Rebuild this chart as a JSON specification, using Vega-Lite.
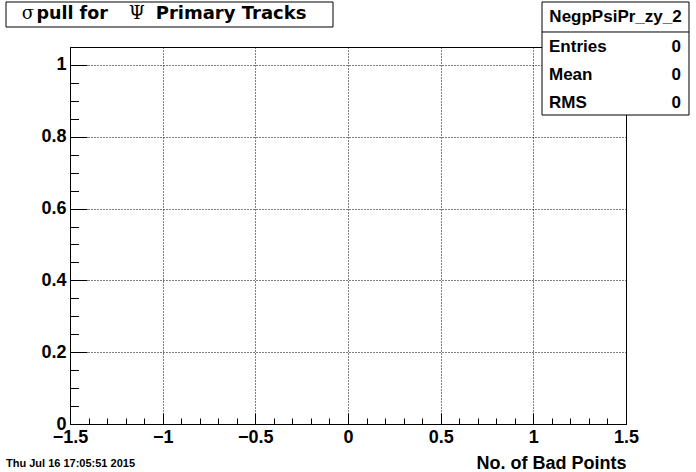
{
  "$schema": "https://vega.github.io/schema/vega-lite/v6.json",
  "width": 556,
  "height": 377,
  "autosize": {"type": "none"},
  "padding": {"left": 70, "top": 47, "right": 70, "bottom": 48},
  "background": "white",
  "config": {
    "view": {"stroke": "black", "strokeWidth": 1},
    "font": "Liberation Sans",
    "axis": {
      "domainColor": "black",
      "tickColor": "black",
      "domainWidth": 1,
      "tickWidth": 1,
      "labelColor": "black",
      "titleColor": "black",
      "labelFont": "Liberation Sans",
      "titleFont": "Liberation Sans",
      "labelFontWeight": "bold",
      "titleFontWeight": "bold",
      "labelFlush": false,
      "labelOverlap": false,
      "gridColor": "black",
      "gridOpacity": 1,
      "gridDash": [1, 2],
      "gridWidth": 1
    }
  },
  "datasets": {
    "histogram": [],
    "stats": [
      {"stat": "Entries", "value": 0},
      {"stat": "Mean", "value": 0},
      {"stat": "RMS", "value": 0}
    ]
  },
  "layer": [
    {
      "layer": [
        {
          "data": {"name": "histogram"},
          "mark": {"type": "point", "color": "black"},
          "encoding": {
            "x": {
              "field": "x", "type": "quantitative",
              "scale": {"domain": [-1.5, 1.5], "nice": false, "zero": false},
              "axis": {
                "orient": "bottom",
                "values": [-1.5, -1, -0.5, 0, 0.5, 1, 1.5],
                "format": "~g",
                "tickSize": -11,
                "labelPadding": 15,
                "labelFontSize": 18,
                "grid": true,
                "title": "No. of Bad Points",
                "titleFontSize": 18,
                "titleAlign": "right",
                "titleBaseline": "alphabetic",
                "titleX": 556,
                "titleY": 44
              }
            },
            "y": {
              "field": "entries", "type": "quantitative",
              "scale": {"domain": [0, 1.05], "nice": false, "zero": false},
              "axis": {
                "orient": "left",
                "values": [0, 0.2, 0.4, 0.6, 0.8, 1],
                "format": "~g",
                "tickSize": -17,
                "labelPadding": 21,
                "labelFontSize": 18,
                "grid": true,
                "title": null
              }
            }
          }
        },
        {
          "data": {"name": "histogram"},
          "mark": {"type": "point", "opacity": 0},
          "encoding": {
            "x": {
              "field": "x", "type": "quantitative",
              "axis": {
                "orient": "bottom",
                "values": [-1.4, -1.3, -1.2, -1.1, -0.9, -0.8, -0.7, -0.6, -0.4, -0.3, -0.2, -0.1, 0.1, 0.2, 0.3, 0.4, 0.6, 0.7, 0.8, 0.9, 1.1, 1.2, 1.3, 1.4],
                "tickSize": -6,
                "labels": false,
                "domain": false,
                "grid": false,
                "title": null
              }
            },
            "y": {
              "field": "entries", "type": "quantitative",
              "axis": {
                "orient": "left",
                "values": [0.05, 0.1, 0.15, 0.25, 0.3, 0.35, 0.45, 0.5, 0.55, 0.65, 0.7, 0.75, 0.85, 0.9, 0.95],
                "tickSize": -8.5,
                "labels": false,
                "domain": false,
                "grid": false,
                "title": null
              }
            }
          }
        },
        {
          "data": {"name": "stats"},
          "transform": [{"filter": "datum.stat === 'Entries'"}],
          "mark": {"type": "rect", "fill": "white", "stroke": "black", "strokeWidth": 1},
          "encoding": {
            "x": {"datum": -1.8453, "type": "quantitative", "axis": null},
            "x2": {"datum": -0.0809},
            "y": {"datum": 1.1753, "type": "quantitative", "axis": null},
            "y2": {"datum": 1.1057}
          }
        },
        {
          "data": {"name": "stats"},
          "transform": [{"filter": "datum.stat === 'Entries'"}],
          "mark": {"type": "text", "text": "σ", "font": "DejaVu Serif", "fontWeight": "normal", "fontSize": 18, "align": "left", "baseline": "alphabetic", "color": "black"},
          "encoding": {
            "x": {"datum": -1.7608, "type": "quantitative", "axis": null},
            "y": {"datum": 1.1266, "type": "quantitative", "axis": null}
          }
        },
        {
          "data": {"name": "stats"},
          "transform": [{"filter": "datum.stat === 'Entries'"}],
          "mark": {"type": "text", "text": "pull for", "font": "DejaVu Sans", "fontWeight": "bold", "fontSize": 17.5, "align": "left", "baseline": "alphabetic", "color": "black"},
          "encoding": {
            "x": {"datum": -1.6808, "type": "quantitative", "axis": null},
            "y": {"datum": 1.1266, "type": "quantitative", "axis": null}
          }
        },
        {
          "data": {"name": "stats"},
          "transform": [{"filter": "datum.stat === 'Entries'"}],
          "mark": {"type": "text", "text": "Ψ", "font": "DejaVu Serif", "fontWeight": "normal", "fontSize": 18, "align": "left", "baseline": "alphabetic", "color": "black"},
          "encoding": {
            "x": {"datum": -1.1817, "type": "quantitative", "axis": null},
            "y": {"datum": 1.1266, "type": "quantitative", "axis": null}
          }
        },
        {
          "data": {"name": "stats"},
          "transform": [{"filter": "datum.stat === 'Entries'"}],
          "mark": {"type": "text", "text": "Primary Tracks", "font": "DejaVu Sans", "fontWeight": "bold", "fontSize": 18, "align": "left", "baseline": "alphabetic", "color": "black"},
          "encoding": {
            "x": {"datum": -1.0376, "type": "quantitative", "axis": null},
            "y": {"datum": 1.1266, "type": "quantitative", "axis": null}
          }
        },
        {
          "data": {"name": "stats"},
          "transform": [{"filter": "datum.stat === 'Entries'"}],
          "mark": {"type": "rect", "fill": "white", "stroke": "black", "strokeWidth": 1},
          "encoding": {
            "x": {"datum": 1.0468, "type": "quantitative", "axis": null},
            "x2": {"datum": 1.8399},
            "y": {"datum": 1.1753, "type": "quantitative", "axis": null},
            "y2": {"datum": 0.8606}
          }
        },
        {
          "data": {"name": "stats"},
          "transform": [{"filter": "datum.stat === 'Entries'"}],
          "mark": {"type": "rule", "color": "black", "strokeWidth": 1},
          "encoding": {
            "x": {"datum": 1.0468, "type": "quantitative", "axis": null},
            "x2": {"datum": 1.8399},
            "y": {"datum": 1.0918, "type": "quantitative", "axis": null}
          }
        },
        {
          "data": {"name": "stats"},
          "transform": [{"filter": "datum.stat === 'Entries'"}],
          "mark": {"type": "text", "text": "NegpPsiPr_zy_2", "font": "Liberation Sans", "fontWeight": "bold", "fontSize": 17, "align": "center", "baseline": "alphabetic", "color": "black"},
          "encoding": {
            "x": {"datum": 1.4434, "type": "quantitative", "axis": null},
            "y": {"datum": 1.1196, "type": "quantitative", "axis": null}
          }
        },
        {
          "data": {"name": "stats"},
          "transform": [{"filter": "datum.stat === 'Entries'"}],
          "mark": {"type": "text", "text": "Thu Jul 16 17:05:51 2015", "font": "Liberation Sans", "fontWeight": "bold", "fontSize": 11, "align": "left", "baseline": "alphabetic", "color": "black"},
          "encoding": {
            "x": {"datum": -1.8453, "type": "quantitative", "axis": null},
            "y": {"datum": -0.1198, "type": "quantitative", "axis": null}
          }
        }
      ],
      "resolve": {"axis": {"x": "independent", "y": "independent"}}
    },
    {
      "data": {"name": "stats"},
      "encoding": {
        "y": {
          "field": "stat", "type": "ordinal",
          "scale": {"type": "point", "domain": ["Entries", "Mean", "RMS"], "range": [5, 61], "padding": 0},
          "axis": null
        }
      },
      "layer": [
        {
          "mark": {"type": "text", "font": "Liberation Sans", "fontWeight": "bold", "fontSize": 17, "align": "left", "baseline": "alphabetic", "color": "black"},
          "encoding": {
            "x": {"datum": 1.0845, "type": "quantitative", "axis": null},
            "text": {"field": "stat"}
          }
        },
        {
          "mark": {"type": "text", "font": "Liberation Sans", "fontWeight": "bold", "fontSize": 17, "align": "right", "baseline": "alphabetic", "color": "black"},
          "encoding": {
            "x": {"datum": 1.7968, "type": "quantitative", "axis": null},
            "text": {"field": "value", "format": "~g"}
          }
        }
      ]
    }
  ],
  "resolve": {"scale": {"y": "independent"}, "axis": {"x": "independent", "y": "independent"}}
}
